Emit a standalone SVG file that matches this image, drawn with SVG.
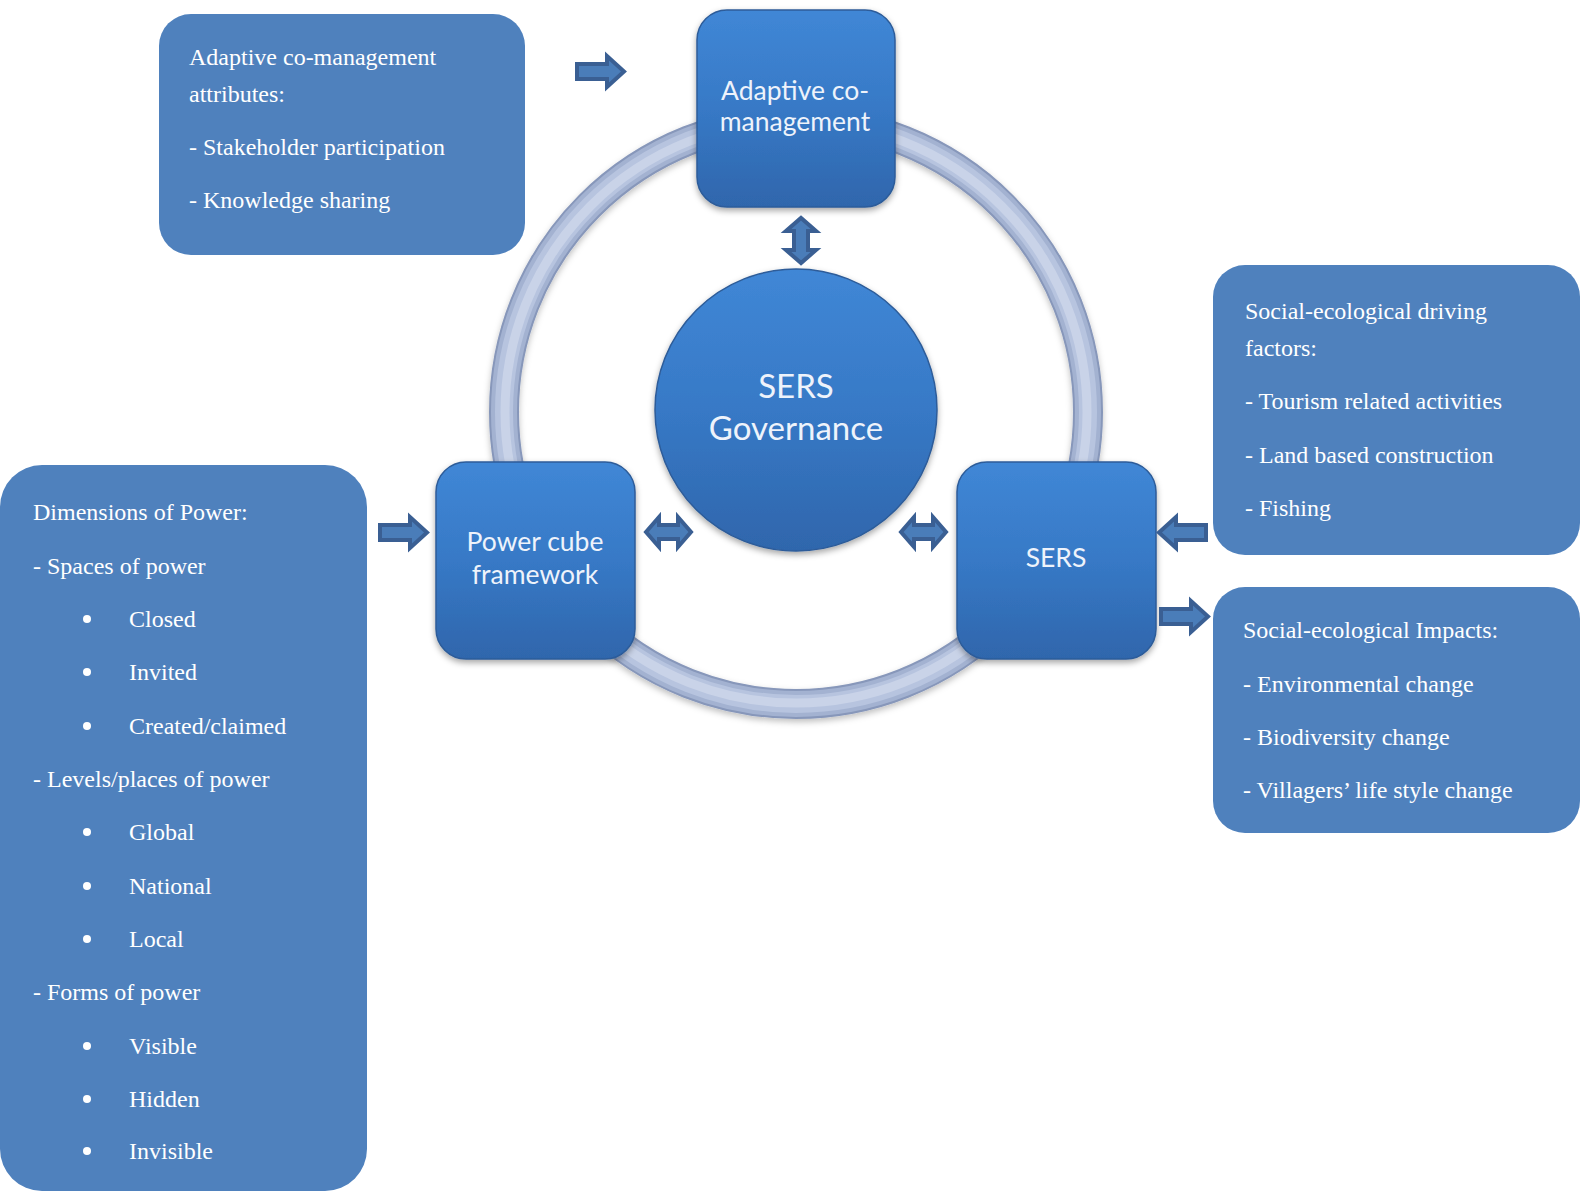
<svg xmlns="http://www.w3.org/2000/svg" width="1581" height="1192" viewBox="0 0 1581 1192">
<style>
.box{fill:#4F81BD;}
.bt{font-family:"Liberation Serif","Times New Roman",serif;font-size:24px;fill:#FFFFFF;}
.node{fill:url(#ng);stroke:#2D5C99;stroke-width:1.5;filter:url(#sh);}
.nt{font-family:Lato,"Open Sans",sans-serif;font-size:26.5px;fill:#EEF3FB;text-anchor:middle;}
.arr{fill:#4A7DB9;stroke:#3A5F93;stroke-width:4;stroke-linejoin:miter;}
</style>
<defs>
<linearGradient id="ng" x1="0" y1="0" x2="0" y2="1">
<stop offset="0" stop-color="#4087D6"/>
<stop offset="0.5" stop-color="#3779C6"/>
<stop offset="1" stop-color="#2F66AC"/>
</linearGradient>
<filter id="sh" x="-20%" y="-20%" width="140%" height="140%">
<feDropShadow dx="0" dy="3" stdDeviation="3" flood-color="#000" flood-opacity="0.35"/>
</filter>
<filter id="rsh" x="-10%" y="-10%" width="120%" height="120%">
<feDropShadow dx="0" dy="3" stdDeviation="3" flood-color="#000" flood-opacity="0.25"/>
</filter>
<path id="ra" d="M2,11 H32 V3 L49,18.5 L32,34 V26 H2 Z"/>
<path id="da" d="M2,19 L15,4 V12 H34 V4 L47,19 L34,34 V26 H15 V34 Z"/>
</defs>

<g id="ring" filter="url(#rsh)">
<circle cx="796" cy="412" r="292" fill="none" stroke="#8797BA" stroke-width="30"/>
<circle cx="796" cy="412" r="292" fill="none" stroke="#A3B2D1" stroke-width="26"/>
<circle cx="796" cy="412" r="292" fill="none" stroke="#B7C4DF" stroke-width="18"/>
<circle cx="796" cy="412" r="291" fill="none" stroke="#C9D3E8" stroke-width="9"/>
</g>

<g id="box-adaptive">
<rect class="box" x="159" y="14" width="366" height="241" rx="32"/>
<text class="bt" x="189" y="65">Adaptive co-management</text>
<text class="bt" x="189" y="102">attributes:</text>
<text class="bt" x="189" y="155">- Stakeholder participation</text>
<text class="bt" x="189" y="208">- Knowledge sharing</text>
</g>

<g id="box-power">
<rect class="box" x="0" y="465" width="367" height="726" rx="42"/>
<text class="bt" x="33" y="520">Dimensions of Power:</text>
<text class="bt" x="33" y="574">- Spaces of power</text>
<circle cx="87" cy="619" r="4" fill="#fff"/><text class="bt" x="129" y="627">Closed</text>
<circle cx="87" cy="672" r="4" fill="#fff"/><text class="bt" x="129" y="680">Invited</text>
<circle cx="87" cy="726" r="4" fill="#fff"/><text class="bt" x="129" y="734">Created/claimed</text>
<text class="bt" x="33" y="787">- Levels/places of power</text>
<circle cx="87" cy="832" r="4" fill="#fff"/><text class="bt" x="129" y="840">Global</text>
<circle cx="87" cy="886" r="4" fill="#fff"/><text class="bt" x="129" y="894">National</text>
<circle cx="87" cy="939" r="4" fill="#fff"/><text class="bt" x="129" y="947">Local</text>
<text class="bt" x="33" y="1000">- Forms of power</text>
<circle cx="87" cy="1046" r="4" fill="#fff"/><text class="bt" x="129" y="1054">Visible</text>
<circle cx="87" cy="1099" r="4" fill="#fff"/><text class="bt" x="129" y="1107">Hidden</text>
<circle cx="87" cy="1151" r="4" fill="#fff"/><text class="bt" x="129" y="1159">Invisible</text>
</g>

<g id="box-drivers">
<rect class="box" x="1213" y="265" width="367" height="290" rx="32"/>
<text class="bt" x="1245" y="319">Social-ecological driving</text>
<text class="bt" x="1245" y="356">factors:</text>
<text class="bt" x="1245" y="409">- Tourism related activities</text>
<text class="bt" x="1245" y="463">- Land based construction</text>
<text class="bt" x="1245" y="516">- Fishing</text>
</g>

<g id="box-impacts">
<rect class="box" x="1213" y="587" width="367" height="246" rx="32"/>
<text class="bt" x="1243" y="638">Social-ecological Impacts:</text>
<text class="bt" x="1243" y="692">- Environmental change</text>
<text class="bt" x="1243" y="745">- Biodiversity change</text>
<text class="bt" x="1243" y="798">- Villagers’ life style change</text>
</g>

<g id="node-adaptive">
<rect class="node" x="697" y="10" width="198" height="197" rx="30"/>
<text class="nt" x="795" y="100">Adaptive co-</text>
<text class="nt" x="795" y="131">management</text>
</g>

<g id="node-power">
<rect class="node" x="436" y="462" width="199" height="197" rx="30"/>
<text class="nt" x="535" y="551">Power cube</text>
<text class="nt" x="535" y="584">framework</text>
</g>

<g id="node-sers">
<rect class="node" x="957" y="462" width="199" height="197" rx="30"/>
<text class="nt" x="1056" y="567">SERS</text>
</g>

<g id="node-governance">
<circle class="node" cx="796" cy="410" r="141"/>
<text class="nt" x="796" y="398" style="font-size:33px">SERS</text>
<text class="nt" x="796" y="440" style="font-size:33px">Governance</text>
</g>

<g id="connectors">
<use href="#ra" class="arr" transform="translate(575,53)"/>
<use href="#ra" class="arr" transform="translate(378,514)"/>
<use href="#da" class="arr" transform="translate(644,513)"/>
<use href="#da" class="arr" transform="translate(899,513)"/>
<use href="#da" class="arr" transform="translate(782,265) rotate(-90)"/>
<use href="#ra" class="arr" transform="translate(1208,551) rotate(180)"/>
<use href="#ra" class="arr" transform="translate(1159,598)"/>
</g>
</svg>
